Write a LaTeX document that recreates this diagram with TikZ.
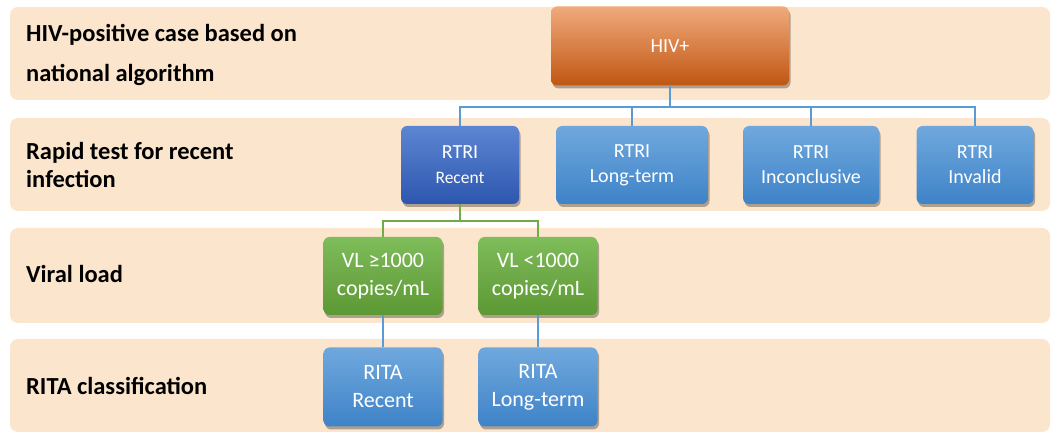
\documentclass[tikz,border=0pt]{standalone}
\usepackage{fontspec}
\setmainfont{Carlito}
\usetikzlibrary{shadows}
\definecolor{bandc}{RGB}{252,229,205}
\definecolor{lineb}{RGB}{91,155,213}
\definecolor{lineg}{RGB}{112,173,71}
\definecolor{orT}{RGB}{240,170,124}
\definecolor{orM}{RGB}{237,125,49}
\definecolor{orB}{RGB}{192,86,18}
\definecolor{dbT}{RGB}{92,134,210}
\definecolor{dbM}{RGB}{68,114,196}
\definecolor{dbB}{RGB}{45,86,175}
\definecolor{lbT}{RGB}{112,168,221}
\definecolor{lbM}{RGB}{91,155,213}
\definecolor{lbB}{RGB}{62,131,200}
\definecolor{grT}{RGB}{127,188,90}
\definecolor{grM}{RGB}{112,173,71}
\definecolor{grB}{RGB}{92,152,52}
\tikzset{
  band/.style={fill=bandc, rounded corners=8pt},
  boxbase/.style={rounded corners=6pt, text=white, align=center, inner sep=0pt,
    drop shadow={shadow xshift=1.5pt, shadow yshift=-3pt, opacity=.3, fill=black}},
  hivbox/.style={boxbase, top color=orT, middle color=orM, bottom color=orB,
    minimum width=238pt, minimum height=79pt, font=\fontsize{20}{24}\selectfont},
  darkbox/.style={boxbase, top color=dbT, middle color=dbM, bottom color=dbB,
    minimum height=78pt, font=\fontsize{20}{25}\selectfont},
  lightbox/.style={boxbase, top color=lbT, middle color=lbM, bottom color=lbB,
    minimum height=78pt, font=\fontsize{20}{25}\selectfont},
  greenbox/.style={boxbase, top color=grT, middle color=grM, bottom color=grB,
    minimum width=119pt, minimum height=78pt, font=\fontsize{22}{28}\selectfont},
  ritabox/.style={lightbox, minimum width=119pt, minimum height=79pt, font=\fontsize{22}{28}\selectfont},
  rowlabel/.style={anchor=west, align=left, inner sep=0pt, font=\bfseries\fontsize{24.5}{28}\selectfont},
  bline/.style={draw=lineb, line width=2pt},
  gline/.style={draw=lineg, line width=2pt},
}
\begin{document}
\begin{tikzpicture}[x=1pt,y=-1pt]
\useasboundingbox (0,0) rectangle (1055,435);
% bands
\fill[band] (10,7) rectangle (1050,100);
\fill[band] (10,118) rectangle (1050,211);
\fill[band] (10,228) rectangle (1050,323);
\fill[band] (10,339) rectangle (1050,432);
% row labels
\node[rowlabel, font=\bfseries\fontsize{24.5}{40}\selectfont] (l1) at (26,55) {HIV-positive case based on\\national algorithm};
\node[rowlabel] (l2) at (26,165) {Rapid test for recent\\infection};
\node[rowlabel] (l3) at (26,274) {Viral load};
\node[rowlabel] (l4) at (26,386) {RITA classification};
% coordinates for buses
\coordinate (bus) at (670,107);
\coordinate (gbus) at (460,221);
% boxes
\node[hivbox] (hiv) at (670,46) {HIV+};
\node[darkbox, minimum width=118pt] (rr) at (460,165) {RTRI\\{\fontsize{17.5}{22}\selectfont Recent}};
\node[lightbox, minimum width=152pt] (rl) at (632,165) {RTRI\\Long-term};
\node[lightbox, minimum width=136pt] (ri) at (811,165) {RTRI\\Inconclusive};
\node[lightbox, minimum width=117pt] (rv) at (975,165) {RTRI\\Invalid};
\node[greenbox] (vh) at (383,276) {VL ≥1000\\copies/mL};
\node[greenbox] (vlo) at (538,276) {VL <1000\\copies/mL};
\node[ritabox] (tr) at (383,387) {RITA\\Recent};
\node[ritabox] (tl) at (538,387) {RITA\\Long-term};
% connectors
\draw[bline] (hiv.south) -- (bus);
\draw[bline] (rr.north) -- (rr.north |- bus) -| (rv.north);
\draw[bline] (rl.north) -- (rl.north |- bus);
\draw[bline] (ri.north) -- (ri.north |- bus);
\draw[gline] (rr.south) -- (gbus);
\draw[gline] (vh.north) -- (vh.north |- gbus) -| (vlo.north);
\draw[bline] (vh.south) -- (tr.north);
\draw[bline] (vlo.south) -- (tl.north);
\end{tikzpicture}
\end{document}
